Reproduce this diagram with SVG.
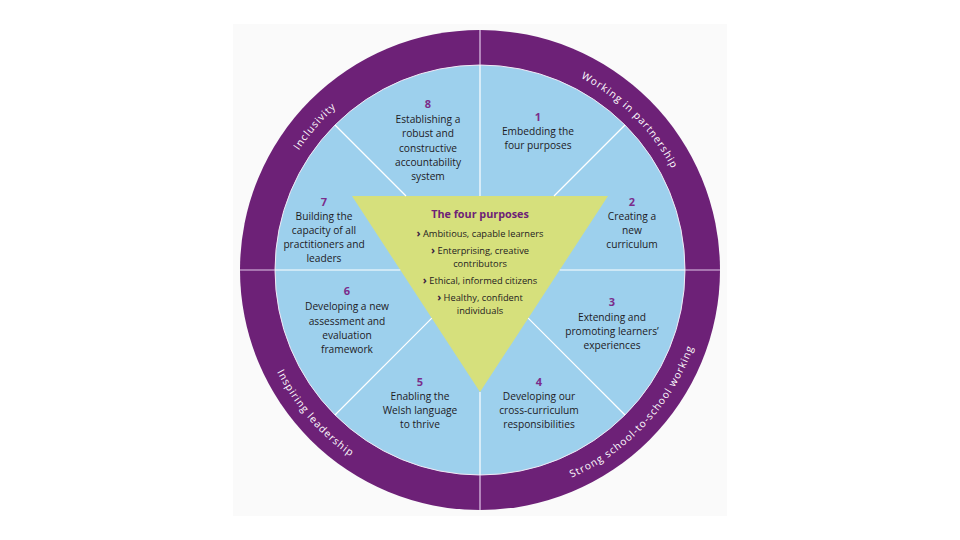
<svg xmlns="http://www.w3.org/2000/svg" width="960" height="540" viewBox="0 0 960 540">
<defs>
<style>
.t{font-family:"Open Sans","Liberation Sans",sans-serif;font-size:10.2px;fill:#1e1b1f;text-anchor:middle}
.n{font-family:"Open Sans","Liberation Sans",sans-serif;font-size:11px;font-weight:bold;fill:#7b2c8a;text-anchor:middle}
.b{font-family:"Open Sans","Liberation Sans",sans-serif;font-size:9.3px;fill:#1e1b1f;text-anchor:middle}
.h{font-family:"Open Sans","Liberation Sans",sans-serif;font-size:10.8px;font-weight:bold;fill:#6d2177;text-anchor:middle}
.c{font-weight:bold;font-size:11px;fill:#3b1d43}
.r{font-family:"Open Sans","Liberation Sans",sans-serif;font-size:10.2px;fill:#ffffff;letter-spacing:1px;text-anchor:middle}
.d{stroke:#ffffff;stroke-width:1.2;fill:none}
.dr{stroke:#e2c8ea;stroke-width:1.2;fill:none}
</style>
<path id="arcInc" d="M263.5,285.1 A217,217 0 0,1 464.9,53.5"/>
<path id="arcWork" d="M480,53 A217,217 0 0,1 697,270"/>
<path id="arcInsp" d="M253.5,254.2 A227,227 0 0,0 464.2,496.5"/>
<path id="arcStrong" d="M487.9,496.9 A227,227 0 0,0 706.9,262.1"/>
</defs>
<rect x="0" y="0" width="960" height="540" fill="#ffffff"/>
<rect x="233" y="24" width="494" height="492" fill="#fafafa"/>
<g id="wheel">
<circle cx="480" cy="270" r="240" fill="#6d2177"/>
<circle cx="480" cy="270" r="205" fill="#9dd0ed" stroke="#f2e8f5" stroke-width="1"/>
</g>
<g id="triangle">
<polygon points="352,196 608,196 480,392" fill="#d6e07c"/>
</g>
<g id="connectors">
<line class="dr" x1="480" y1="30" x2="480" y2="65"/>
<line class="dr" x1="480" y1="475" x2="480" y2="510"/>
<line class="dr" x1="240" y1="270" x2="275" y2="270"/>
<line class="dr" x1="685" y1="270" x2="720" y2="270"/>
<line class="d" x1="480" y1="65" x2="480" y2="196"/>
<line class="d" x1="480" y1="392" x2="480" y2="475"/>
<line class="d" x1="275" y1="270" x2="400.3" y2="270"/>
<line class="d" x1="559.7" y1="270" x2="685" y2="270"/>
<line class="d" x1="406" y1="196" x2="335" y2="125"/>
<line class="d" x1="554" y1="196" x2="625" y2="125"/>
<line class="d" x1="431.8" y1="318.2" x2="335" y2="415"/>
<line class="d" x1="528.2" y1="318.2" x2="625" y2="415"/>
</g>
<g id="ring-inclusivity"><text class="r"><textPath href="#arcInc" startOffset="50%">Inclusivity</textPath></text></g>
<g id="ring-working"><text class="r"><textPath href="#arcWork" startOffset="50%">Working in partnership</textPath></text></g>
<g id="ring-inspiring"><text class="r"><textPath href="#arcInsp" startOffset="50%">Inspiring leadership</textPath></text></g>
<g id="ring-strong"><text class="r"><textPath href="#arcStrong" startOffset="50%">Strong school-to-school working</textPath></text></g>
<g id="purposes">
<text class="h" x="480" y="218">The four purposes</text>
<text class="b" x="480" y="237"><tspan class="c">›</tspan> Ambitious, capable learners</text>
<text class="b" x="480" y="254"><tspan class="c">›</tspan> Enterprising, creative</text>
<text class="b" x="480" y="267">contributors</text>
<text class="b" x="480" y="284"><tspan class="c">›</tspan> Ethical, informed citizens</text>
<text class="b" x="480" y="301"><tspan class="c">›</tspan> Healthy, confident</text>
<text class="b" x="480" y="314">individuals</text>
</g>
<g id="s1">
<text class="n" x="538" y="121">1</text>
<text class="t" x="538" y="135">Embedding the</text>
<text class="t" x="538" y="149">four purposes</text>
</g>
<g id="s2">
<text class="n" x="632" y="206">2</text>
<text class="t" x="632" y="220">Creating a</text>
<text class="t" x="632" y="234">new</text>
<text class="t" x="632" y="248">curriculum</text>
</g>
<g id="s3">
<text class="n" x="612" y="306">3</text>
<text class="t" x="612" y="321">Extending and</text>
<text class="t" x="612" y="335">promoting learners’</text>
<text class="t" x="612" y="349">experiences</text>
</g>
<g id="s4">
<text class="n" x="539" y="386">4</text>
<text class="t" x="539" y="400">Developing our</text>
<text class="t" x="539" y="414">cross-curriculum</text>
<text class="t" x="539" y="428">responsibilities</text>
</g>
<g id="s5">
<text class="n" x="420" y="386">5</text>
<text class="t" x="420" y="400">Enabling the</text>
<text class="t" x="420" y="414">Welsh language</text>
<text class="t" x="420" y="428">to thrive</text>
</g>
<g id="s6">
<text class="n" x="347" y="295">6</text>
<text class="t" x="347" y="310">Developing a new</text>
<text class="t" x="347" y="325">assessment and</text>
<text class="t" x="347" y="339">evaluation</text>
<text class="t" x="347" y="353">framework</text>
</g>
<g id="s7">
<text class="n" x="324" y="206">7</text>
<text class="t" x="324" y="220">Building the</text>
<text class="t" x="324" y="234">capacity of all</text>
<text class="t" x="324" y="248">practitioners and</text>
<text class="t" x="324" y="262">leaders</text>
</g>
<g id="s8">
<text class="n" x="428" y="108">8</text>
<text class="t" x="428" y="123">Establishing a</text>
<text class="t" x="428" y="137">robust and</text>
<text class="t" x="428" y="152">constructive</text>
<text class="t" x="428" y="166">accountability</text>
<text class="t" x="428" y="180">system</text>
</g>
</svg>
